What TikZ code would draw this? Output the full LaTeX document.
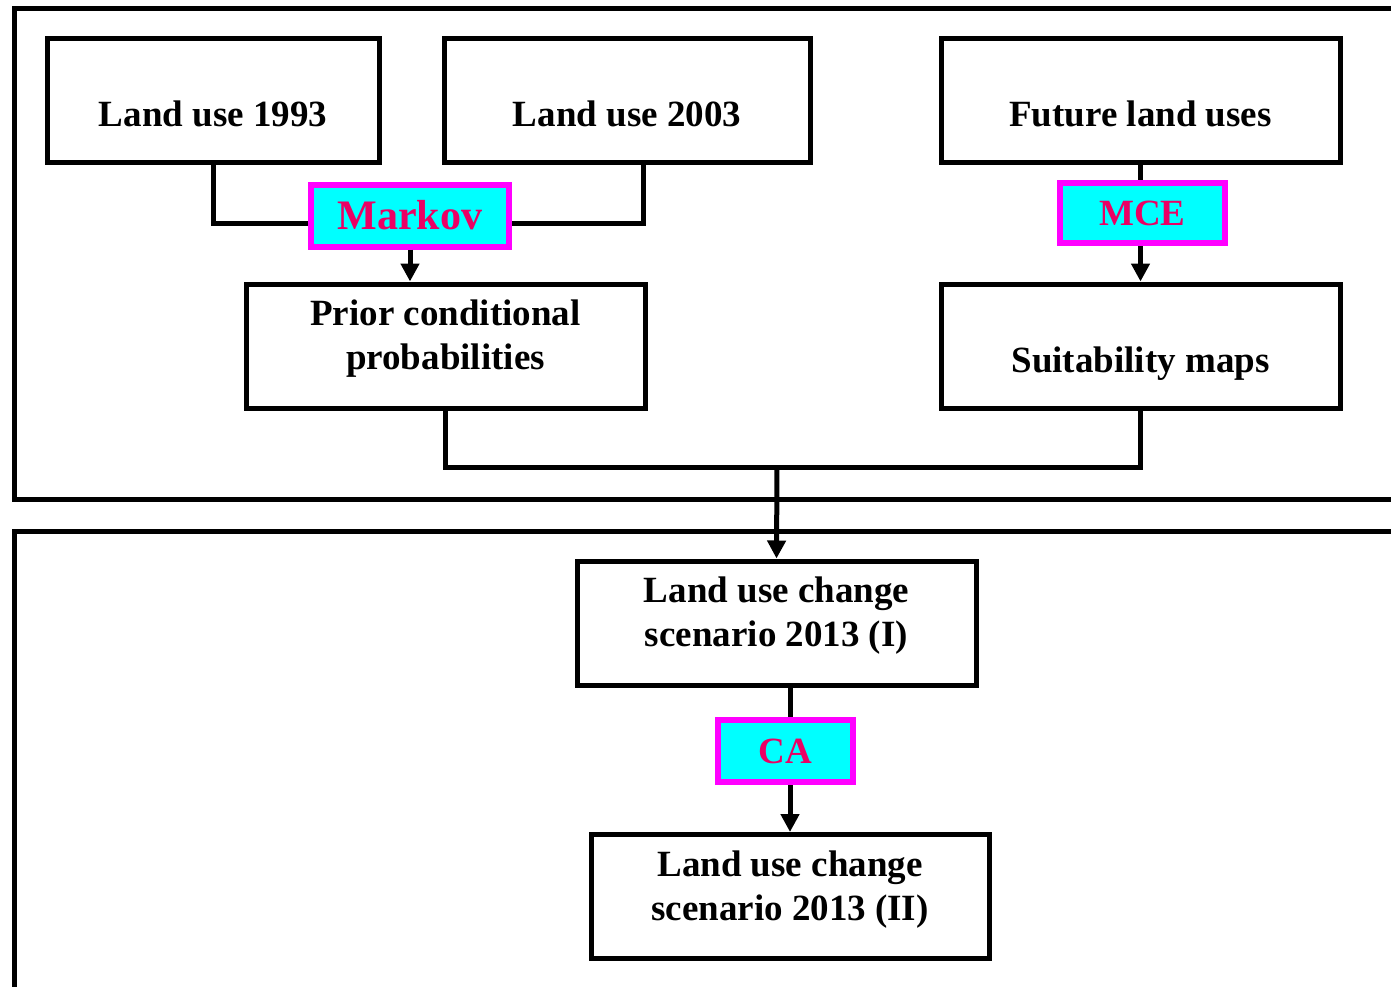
\documentclass[tikz,border=0pt]{standalone}
\usepackage{fontspec}
\setmainfont{Liberation Serif}
\usetikzlibrary{arrows.meta}
\definecolor{tagred}{RGB}{235,0,100}
\definecolor{tagedge}{RGB}{255,0,255}
\definecolor{tagfill}{RGB}{0,255,255}
\tikzset{
  box/.style={draw,line width=2.5pt,minimum height=62pt,align=center,
    font=\fontsize{18.5}{22}\selectfont\bfseries},
  onebox/.style={box,text height=26pt,text depth=0pt},
  twobox/.style={box,text depth=11pt},
  tag/.style={draw=tagedge,fill=tagfill,line width=3pt,text=tagred,
    minimum height=31pt,font=\fontsize{18.5}{22}\selectfont\bfseries},
  frame/.style={line width=2.5pt}
}
\begin{document}
\begin{tikzpicture}[x=0.5pt,y=-0.5pt,>={Triangle[length=9pt,width=9pt]},line width=2.5pt]
        \useasboundingbox(0,0)rectangle(1391,986);
        % outer frames
        \draw[frame](1400,8)-|(14,499)--(1400,499);
        \draw[frame](1400,531)-|(14,1000);
        % boxes
        \node[onebox,minimum width=166pt](lu93)at(213,100){Land use 1993};
        \node[onebox,minimum width=183pt](lu03)at(627,100){Land use 2003};
        \node[onebox,minimum width=199.5pt](future)at(1140.5,100){Future land uses};
        \node[twobox,minimum width=199.5pt](prior)at(445.5,346){Prior conditional\\probabilities};
        \node[onebox,minimum width=199.5pt](suit)at(1140.5,346){Suitability maps};
        \node[twobox,minimum width=199.5pt](scen1)at(776.5,623){Land use change\\scenario 2013 (I)};
        \node[twobox,minimum width=199pt](scen2)at(790,896.5){Land use change\\scenario 2013 (II)};
        % methods
        \node[tag,minimum width=99pt,font=\fontsize{21}{24}\selectfont\bfseries](markov)at(410,215.5){Markov};
        \node[tag,minimum width=82.5pt,minimum height=30pt](mce)at(1142.5,213){MCE};
        \node[tag,minimum width=67.5pt](ca)at(785.5,751){CA};
        % connectors
        \draw(lu93.south)|-([yshift=-3.75pt]markov.west);
        \draw([xshift=8pt]lu03.south)|-([yshift=-3.75pt]markov.east);
        \draw[->](markov.south)--(markov.south|-prior.north);
        \draw(future.south)--(future.south|-mce.north);
        \draw[->](future.south|-mce.south)--(suit.north);
        \coordinate(join)at(777,467);
        \draw(prior.south)|-(join)-|(suit.south);
        \draw[->](join)--(scen1.north);
        \draw(scen2.north|-scen1.south)--(scen2.north|-ca.north);
        \draw[->](scen2.north|-ca.south)--(scen2.north);
\end{tikzpicture}
\end{document}
